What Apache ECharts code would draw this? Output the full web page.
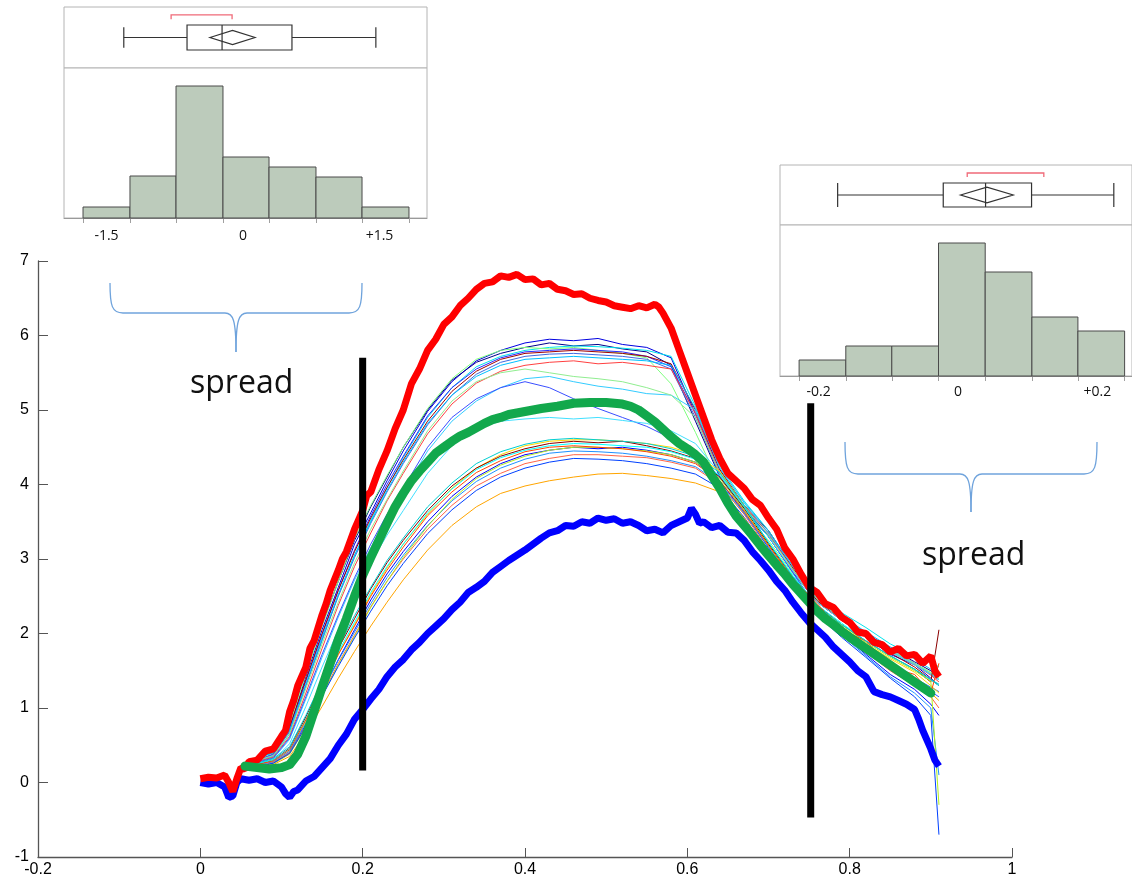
<!DOCTYPE html>
<html><head><meta charset="utf-8">
<script src="https://cdn.jsdelivr.net/npm/echarts@6/dist/echarts.min.js"></script>
<style>html,body{margin:0;padding:0;background:#fff}#c{width:1132px;height:884px}</style>
</head><body><div id="c"></div>
<script>
// ---------------- DATA ----------------
// main plot: thick envelope / mean curves  [x, y]
const maxCurve = [[0,0.05],[0.01,0.07],[0.02,0.06],[0.03,0.1],[0.035,0.0],[0.04,-0.12],[0.045,0.05],[0.05,0.2],[0.055,0.18],[0.06,0.28],[0.07,0.3],[0.08,0.42],[0.09,0.45],[0.1,0.62],[0.105,0.7],[0.11,0.95],[0.115,1.1],[0.12,1.3],[0.13,1.55],[0.135,1.8],[0.14,1.9],[0.15,2.25],[0.155,2.4],[0.16,2.58],[0.17,2.85],[0.175,3.0],[0.18,3.1],[0.19,3.4],[0.2,3.65],[0.205,3.85],[0.21,3.9],[0.22,4.2],[0.23,4.45],[0.24,4.75],[0.25,5.0],[0.26,5.35],[0.27,5.55],[0.28,5.8],[0.29,5.95],[0.3,6.15],[0.31,6.25],[0.32,6.4],[0.33,6.5],[0.34,6.62],[0.35,6.7],[0.36,6.72],[0.37,6.8],[0.38,6.78],[0.39,6.82],[0.4,6.75],[0.41,6.76],[0.42,6.68],[0.43,6.7],[0.44,6.62],[0.45,6.6],[0.46,6.55],[0.47,6.56],[0.48,6.5],[0.49,6.47],[0.5,6.45],[0.51,6.4],[0.52,6.38],[0.53,6.36],[0.54,6.4],[0.55,6.37],[0.56,6.42],[0.565,6.38],[0.57,6.3],[0.58,6.1],[0.59,5.8],[0.6,5.5],[0.61,5.2],[0.62,4.9],[0.63,4.6],[0.64,4.35],[0.65,4.15],[0.66,4.05],[0.67,3.95],[0.68,3.8],[0.69,3.72],[0.7,3.55],[0.71,3.4],[0.72,3.15],[0.73,3.0],[0.74,2.8],[0.75,2.62],[0.76,2.55],[0.77,2.4],[0.78,2.35],[0.79,2.22],[0.8,2.15],[0.81,2.02],[0.82,2.0],[0.83,1.88],[0.84,1.85],[0.85,1.75],[0.86,1.8],[0.87,1.7],[0.88,1.72],[0.89,1.6],[0.9,1.7],[0.905,1.5],[0.91,1.42]];
const minCurve = [[0,0.0],[0.01,-0.02],[0.02,0.0],[0.03,-0.06],[0.035,-0.2],[0.04,-0.18],[0.045,0.0],[0.05,0.05],[0.06,0.03],[0.07,0.05],[0.08,0.0],[0.09,0.02],[0.1,-0.06],[0.105,-0.15],[0.11,-0.2],[0.115,-0.12],[0.12,-0.1],[0.13,0.02],[0.14,0.08],[0.15,0.2],[0.16,0.32],[0.17,0.5],[0.18,0.65],[0.19,0.85],[0.2,0.98],[0.21,1.12],[0.22,1.25],[0.23,1.42],[0.24,1.55],[0.25,1.65],[0.26,1.78],[0.27,1.88],[0.28,2.0],[0.29,2.1],[0.3,2.2],[0.31,2.32],[0.32,2.42],[0.33,2.55],[0.34,2.62],[0.35,2.7],[0.36,2.82],[0.37,2.9],[0.38,2.98],[0.39,3.05],[0.4,3.12],[0.41,3.2],[0.42,3.28],[0.43,3.35],[0.44,3.38],[0.45,3.45],[0.46,3.44],[0.47,3.5],[0.48,3.48],[0.49,3.55],[0.5,3.52],[0.51,3.54],[0.52,3.48],[0.53,3.5],[0.54,3.45],[0.55,3.38],[0.56,3.4],[0.57,3.35],[0.58,3.45],[0.59,3.5],[0.6,3.55],[0.605,3.68],[0.61,3.6],[0.615,3.48],[0.62,3.5],[0.63,3.42],[0.64,3.45],[0.65,3.36],[0.66,3.35],[0.67,3.25],[0.68,3.1],[0.69,2.98],[0.7,2.85],[0.71,2.7],[0.72,2.58],[0.73,2.42],[0.74,2.28],[0.75,2.15],[0.76,2.05],[0.77,1.95],[0.78,1.82],[0.79,1.72],[0.8,1.62],[0.81,1.5],[0.82,1.42],[0.83,1.22],[0.84,1.18],[0.85,1.15],[0.86,1.1],[0.87,1.05],[0.88,0.98],[0.885,0.85],[0.89,0.7],[0.9,0.45],[0.905,0.3],[0.91,0.22]];
const meanCurve = [[0.055,0.22],[0.07,0.2],[0.085,0.18],[0.1,0.2],[0.11,0.24],[0.12,0.38],[0.13,0.62],[0.14,0.95],[0.15,1.28],[0.16,1.6],[0.17,1.92],[0.18,2.2],[0.19,2.5],[0.2,2.78],[0.21,3.02],[0.22,3.25],[0.23,3.48],[0.24,3.7],[0.25,3.88],[0.26,4.05],[0.27,4.18],[0.28,4.3],[0.29,4.42],[0.3,4.5],[0.31,4.58],[0.32,4.65],[0.33,4.7],[0.34,4.76],[0.35,4.82],[0.36,4.87],[0.37,4.9],[0.38,4.94],[0.39,4.96],[0.4,4.98],[0.42,5.02],[0.44,5.05],[0.46,5.09],[0.48,5.1],[0.5,5.1],[0.52,5.08],[0.53,5.05],[0.54,5.0],[0.55,4.92],[0.56,4.84],[0.57,4.74],[0.58,4.64],[0.59,4.55],[0.6,4.48],[0.61,4.4],[0.62,4.3],[0.63,4.12],[0.64,3.95],[0.65,3.75],[0.66,3.58],[0.67,3.45],[0.68,3.32],[0.69,3.18],[0.7,3.05],[0.71,2.92],[0.72,2.8],[0.73,2.66],[0.74,2.54],[0.75,2.42],[0.76,2.3],[0.77,2.2],[0.78,2.12],[0.79,2.03],[0.8,1.95],[0.82,1.8],[0.84,1.65],[0.86,1.5],[0.88,1.35],[0.9,1.2]];

// individual traces, sampled on a common x grid
const traceX = [0.07,0.09,0.11,0.13,0.15,0.17,0.19,0.21,0.23,0.25,0.28,0.31,0.34,0.37,0.40,0.43,0.46,0.49,0.52,0.55,0.58,0.61,0.64,0.67,0.70,0.73,0.76,0.79,0.82,0.85,0.88,0.90,0.91];
const traceU1 = [0.3,0.38,0.72,1.42,2.05,2.62,3.2,3.62,4.05,4.45,4.98,5.38,5.66,5.8,5.9,5.95,5.93,5.96,5.88,5.84,5.7,4.95,4.2,3.7,3.3,2.82,2.42,2.18,1.95,1.72,1.58,1.4,1.3];
const traceU2 = [0.35,0.42,0.8,1.5,2.12,2.7,3.25,3.7,4.1,4.5,5.0,5.4,5.64,5.76,5.84,5.9,5.86,5.88,5.82,5.78,5.6,4.85,4.1,3.65,3.32,2.9,2.5,2.22,2.0,1.8,1.62,1.5,1.42];
const traceU3 = [0.28,0.35,0.65,1.3,1.9,2.52,3.05,3.52,3.95,4.36,4.9,5.3,5.58,5.72,5.8,5.84,5.86,5.85,5.83,5.8,5.72,5.05,4.25,3.78,3.38,2.9,2.52,2.28,2.08,1.86,1.7,1.62,1.55];
const traceU4 = [0.33,0.4,0.78,1.45,2.1,2.7,3.28,3.72,4.12,4.5,5.02,5.42,5.68,5.8,5.84,5.82,5.84,5.8,5.76,5.7,5.35,4.7,4.0,3.6,3.25,2.8,2.45,2.2,1.96,1.76,1.6,1.48,1.4];
const traceU5 = [0.3,0.36,0.7,1.36,1.98,2.58,3.12,3.58,4.0,4.38,4.92,5.3,5.55,5.7,5.78,5.8,5.82,5.8,5.78,5.72,5.58,4.95,4.15,3.7,3.35,2.86,2.46,2.2,1.98,1.78,1.6,1.45,1.38];
const traceU6 = [0.34,0.4,0.75,1.38,2.0,2.58,3.1,3.55,3.96,4.33,4.85,5.25,5.52,5.68,5.76,5.78,5.8,5.78,5.76,5.72,5.62,5.0,4.2,3.72,3.38,2.88,2.44,2.18,1.95,1.74,1.55,1.38,1.3];
const traceU7 = [0.3,0.38,0.68,1.3,1.92,2.5,3.02,3.48,3.9,4.28,4.8,5.2,5.48,5.64,5.72,5.75,5.76,5.74,5.72,5.68,5.55,4.9,4.12,3.68,3.3,2.82,2.34,2.05,1.8,1.58,1.4,1.28,1.22];
const traceU8 = [0.32,0.4,0.7,1.32,1.95,2.52,3.05,3.5,3.92,4.3,4.82,5.2,5.45,5.6,5.68,5.7,5.72,5.7,5.68,5.66,5.6,5.02,4.22,3.76,3.38,2.9,2.5,2.24,2.02,1.82,1.66,1.52,1.46];
const traceM1 = [0.28,0.34,0.62,1.2,1.8,2.38,2.9,3.35,3.78,4.15,4.68,5.08,5.36,5.52,5.6,5.64,5.66,5.62,5.64,5.6,5.55,4.95,4.15,3.7,3.35,2.85,2.42,2.18,1.95,1.75,1.58,1.44,1.35];
const traceM2 = [0.26,0.32,0.58,1.12,1.68,2.22,2.72,3.15,3.55,3.9,4.45,4.85,5.12,5.3,5.42,5.45,5.38,5.32,5.28,5.22,5.2,5.0,4.22,3.75,3.35,2.9,2.46,2.2,1.96,1.76,1.6,1.46,1.38];
const traceM3 = [0.27,0.33,0.6,1.15,1.72,2.25,2.75,3.2,3.6,3.95,4.5,4.9,5.15,5.3,5.38,5.3,5.15,5.02,4.9,4.78,4.62,4.45,4.1,3.65,3.3,2.82,2.3,2.02,1.78,1.55,1.38,1.22,1.15];
const traceM4 = [0.25,0.3,0.52,1.02,1.55,2.05,2.52,2.95,3.32,3.65,4.15,4.52,4.75,4.85,4.88,4.9,4.88,4.9,4.86,4.82,4.72,4.55,4.15,3.65,3.3,2.84,2.42,2.18,1.95,1.75,1.58,1.45,1.38];
const traceM5 = [0.3,0.36,0.66,1.26,1.86,2.42,2.95,3.4,3.8,4.18,4.72,5.12,5.38,5.5,5.55,5.5,5.45,5.42,5.38,5.3,5.2,4.9,4.15,3.7,3.32,2.86,2.46,2.2,1.98,1.78,1.6,1.47,1.4];
const traceL1 = [0.22,0.28,0.42,0.82,1.28,1.72,2.12,2.52,2.88,3.2,3.6,3.95,4.22,4.4,4.52,4.58,4.6,4.6,4.58,4.55,4.5,4.4,4.18,3.72,3.2,2.74,2.34,2.1,1.86,1.66,1.48,1.3,1.2];
const traceL2 = [0.24,0.3,0.46,0.88,1.34,1.8,2.2,2.6,2.95,3.25,3.65,3.98,4.22,4.38,4.48,4.55,4.58,4.56,4.58,4.52,4.45,4.35,4.1,3.68,3.2,2.76,2.38,2.12,1.9,1.7,1.52,1.35,2.05];
const traceL3 = [0.2,0.26,0.4,0.78,1.22,1.65,2.05,2.45,2.8,3.1,3.5,3.84,4.1,4.28,4.4,4.46,4.5,4.48,4.5,4.46,4.4,4.3,4.05,3.62,3.15,2.72,2.28,2.0,1.72,1.45,1.25,1.05,0.9];
const traceL4 = [0.22,0.27,0.4,0.76,1.18,1.6,1.98,2.36,2.7,3.0,3.4,3.72,3.98,4.15,4.28,4.35,4.4,4.4,4.38,4.36,4.3,4.22,4.0,3.6,3.12,2.7,2.3,2.02,1.75,1.5,1.3,1.15,1.0];
const traceL5 = [0.25,0.3,0.45,0.85,1.3,1.75,2.15,2.55,2.9,3.2,3.62,3.94,4.2,4.36,4.46,4.52,4.55,4.54,4.52,4.5,4.44,4.34,4.12,3.7,3.22,2.78,2.38,2.14,1.9,1.7,1.52,1.38,1.3];
const traceL6 = [0.23,0.28,0.42,0.8,1.22,1.64,2.02,2.4,2.75,3.05,3.45,3.78,4.04,4.22,4.34,4.42,4.45,4.44,4.42,4.38,4.32,4.24,4.02,3.62,3.16,2.72,2.26,1.98,1.7,1.42,1.2,1.0,0.1];
const traceL7 = [0.2,0.25,0.38,0.74,1.16,1.58,1.96,2.35,2.7,3.02,3.44,3.8,4.08,4.26,4.38,4.46,4.5,4.5,4.48,4.45,4.4,4.3,4.08,3.66,3.18,2.74,2.36,2.12,1.88,1.68,1.5,1.36,-0.3];
const traceL8 = [0.24,0.29,0.44,0.84,1.28,1.72,2.1,2.5,2.85,3.16,3.58,3.9,4.16,4.32,4.44,4.5,4.52,4.5,4.48,4.44,4.38,4.28,4.05,3.64,3.18,2.74,2.4,2.05,1.9,1.55,1.45,1.2,1.6];
const traceL9 = [0.26,0.32,0.48,0.9,1.36,1.82,2.24,2.62,2.98,3.28,3.7,4.02,4.28,4.44,4.54,4.6,4.62,4.6,4.58,4.55,4.48,4.38,4.16,3.72,3.22,2.76,2.36,2.12,1.9,1.7,1.52,1.38,1.32];
const traceL10 = [0.21,0.26,0.39,0.75,1.16,1.56,1.94,2.3,2.64,2.94,3.34,3.66,3.92,4.1,4.22,4.3,4.35,4.34,4.32,4.28,4.22,4.14,3.95,3.56,3.1,2.68,2.25,1.95,1.68,1.4,1.15,0.9,-0.7];
const traceO1 = [0.2,0.24,0.35,0.66,1.02,1.4,1.76,2.1,2.42,2.72,3.12,3.45,3.7,3.88,3.98,4.05,4.1,4.14,4.15,4.12,4.08,4.02,3.9,3.55,3.1,2.7,2.35,2.05,1.78,1.52,1.35,1.2,1.1];

// spread markers (x position, y from / to)
const spreadBarLeft = [[0.2, 0.16], [0.2, 5.7]];
const spreadBarRight = [[0.752, -0.47], [0.752, 5.09]];

// left inset (spread at x = 0.2)
const leftBinEdges = [-1.758, -1.242, -0.736, -0.22, 0.286, 0.802, 1.308, 1.824];
const leftCounts = [1.1, 4.2, 13.2, 6.1, 5.1, 4.1, 1.1];
const leftBox = [-1.31, -0.615, -0.23, 0.538, 1.46];   // min, q1, median, q3, max
const leftMeanDiamond = [-0.363, -0.115, 0.132];       // lower, mean, upper
const leftShortestHalf = [-0.79, -0.12];
const leftTickLabels = [-1.5, 0, 1.5];

// right inset (spread at x = 0.75)
const rightBinEdges = [-0.228, -0.161, -0.095, -0.028, 0.039, 0.106, 0.172, 0.239];
const rightCounts = [1.6, 3.0, 3.0, 13.3, 10.4, 5.9, 4.5];
const rightBox = [-0.1727, -0.0212, 0.0395, 0.1055, 0.2235];
const rightMeanDiamond = [0.0036, 0.0414, 0.0792];
const rightShortestHalf = [0.0132, 0.1231];
const rightTickLabels = [-0.2, 0, 0.2];

// ---------------- CHART ----------------
const traces = [
  [traceU1,'#0000e0'],[traceU2,'#00008b'],[traceU3,'#00e5ee'],[traceU4,'#7fff7f'],[traceU5,'#2a2aff'],
  [traceU6,'#a00000'],[traceU7,'#4169e1'],[traceU8,'#00bfff'],
  [traceM1,'#ff4040'],[traceM2,'#33ccff'],[traceM3,'#3a4fff'],[traceM4,'#40e0ff'],[traceM5,'#90ee90'],
  [traceL1,'#ffd700'],[traceL2,'#8b0000'],[traceL3,'#0000ff'],[traceL4,'#ff6347'],[traceL5,'#00ffff'],
  [traceL6,'#1e90ff'],[traceL7,'#b0f020'],[traceL8,'#ff4500'],[traceL9,'#00ced1'],[traceL10,'#0040ff'],
  [traceO1,'#ffa500']
];

const chart = echarts.init(document.getElementById('c'), null, {renderer:'canvas'});
const axisFont = {fontFamily:'Liberation Sans, Arial, sans-serif', fontSize:16, color:'#000'};
const insetFont = {fontFamily:'Open Sans, sans-serif', fontSize:14, color:'#111'};

function histRender(params, api){
  const a = api.coord([api.value(0), api.value(2)]);
  const b = api.coord([api.value(1), 0]);
  return {type:'rect', shape:{x:a[0], y:a[1], width:b[0]-a[0], height:b[1]-a[1]},
          style:{fill:'#bccbbb', stroke:'#4a4a4a', lineWidth:1}};
}
function boxRenderer(g){
  return function(params, api){
    const v = i => api.value(i);
    const X = x => api.coord([x, 0.5])[0];
    const Y = y => api.coord([0, y])[1];
    const st = {stroke:'#333', lineWidth:1.2, fill:null};
    const yc = Y(0.5);
    return {type:'group', children:[
      {type:'line', shape:{x1:X(v(0)), y1:yc, x2:X(v(1)), y2:yc}, style:st},
      {type:'line', shape:{x1:X(v(3)), y1:yc, x2:X(v(4)), y2:yc}, style:st},
      {type:'line', shape:{x1:X(v(0)), y1:Y(g.capLo), x2:X(v(0)), y2:Y(g.capHi)}, style:st},
      {type:'line', shape:{x1:X(v(4)), y1:Y(g.capLo), x2:X(v(4)), y2:Y(g.capHi)}, style:st},
      {type:'rect', shape:{x:X(v(1)), y:Y(g.boxHi), width:X(v(3))-X(v(1)), height:Y(g.boxLo)-Y(g.boxHi)}, style:{stroke:'#333', lineWidth:1.2, fill:'#fff'}},
      {type:'line', shape:{x1:X(v(2)), y1:Y(g.boxLo), x2:X(v(2)), y2:Y(g.boxHi)}, style:st},
      {type:'polygon', shape:{points:[[X(v(5)),yc],[X(v(6)),Y(g.diaHi)],[X(v(7)),yc],[X(v(6)),Y(g.diaLo)]]}, style:st},
      {type:'polyline', shape:{points:[[X(v(8)),Y(g.brLo)],[X(v(8)),Y(g.brHi)],[X(v(9)),Y(g.brHi)],[X(v(9)),Y(g.brLo)]]}, style:{stroke:'#f06a78', lineWidth:1.3, fill:null}}
    ]};
  };
}
const fmtSigned = v => v > 0 ? '+' + v : String(v);

// curly brace annotation built from bezier + line pieces
function brace(xl, xr, yTop, yMid, yTip){
  const xc = (xl + xr) / 2;
  const st = {stroke:'#6fa3dc', lineWidth:1.3, fill:null};
  return [
    {type:'bezierCurve', shape:{x1:xl, y1:yTop, cpx1:xl, cpy1:yMid-7, cpx2:xl+2, cpy2:yMid, x2:xl+13, y2:yMid}, style:st},
    {type:'line', shape:{x1:xl+13, y1:yMid, x2:xc-11, y2:yMid}, style:st},
    {type:'bezierCurve', shape:{x1:xc-11, y1:yMid, cpx1:xc-3, cpy1:yMid, cpx2:xc, cpy2:yMid+7, x2:xc, y2:yTip}, style:st},
    {type:'bezierCurve', shape:{x1:xc, y1:yTip, cpx1:xc, cpy1:yMid+7, cpx2:xc+3, cpy2:yMid, x2:xc+11, y2:yMid}, style:st},
    {type:'line', shape:{x1:xc+11, y1:yMid, x2:xr-13, y2:yMid}, style:st},
    {type:'bezierCurve', shape:{x1:xr-13, y1:yMid, cpx1:xr-2, cpy1:yMid, cpx2:xr, cpy2:yMid-7, x2:xr, y2:yTop}, style:st}
  ];
}

const series = [];
traces.forEach(([ys, col]) => {
  series.push({type:'line', xAxisIndex:0, yAxisIndex:0, showSymbol:false, silent:true, z:2,
    data: traceX.map((x,i)=>[x, ys[i]]), lineStyle:{width:1, color:col}, itemStyle:{color:col}});
});
series.push({type:'line', xAxisIndex:0, yAxisIndex:0, showSymbol:false, z:3, data:minCurve, lineStyle:{width:7, color:'#0000ff'}});
series.push({type:'line', xAxisIndex:0, yAxisIndex:0, showSymbol:false, z:3, data:maxCurve, lineStyle:{width:7, color:'#ff0000'}});
series.push({type:'line', xAxisIndex:0, yAxisIndex:0, showSymbol:false, z:4, data:meanCurve, lineStyle:{width:9, color:'#12a84c', cap:'round', join:'round'}});
series.push({type:'line', xAxisIndex:0, yAxisIndex:0, showSymbol:false, z:5, data:spreadBarLeft, lineStyle:{width:7, color:'#000'}});
series.push({type:'line', xAxisIndex:0, yAxisIndex:0, showSymbol:false, z:5, data:spreadBarRight, lineStyle:{width:7, color:'#000'}});

// insets
series.push({type:'custom', xAxisIndex:1, yAxisIndex:1, renderItem:boxRenderer({capLo:0.33,capHi:0.67,boxLo:0.295,boxHi:0.705,diaLo:0.385,diaHi:0.615,brLo:0.8,brHi:0.87}),
  data:[[...leftBox, leftMeanDiamond[0], leftMeanDiamond[1], leftMeanDiamond[2], leftShortestHalf[0], leftShortestHalf[1]]], encode:{x:[0,4]}});
series.push({type:'custom', xAxisIndex:2, yAxisIndex:2, renderItem:histRender,
  data:leftCounts.map((c,i)=>[leftBinEdges[i], leftBinEdges[i+1], c]), encode:{x:[0,1], y:2}});
series.push({type:'custom', xAxisIndex:3, yAxisIndex:3, renderItem:boxRenderer({capLo:0.3,capHi:0.7,boxLo:0.3,boxHi:0.7,diaLo:0.37,diaHi:0.63,brLo:0.8,brHi:0.867}),
  data:[[...rightBox, rightMeanDiamond[0], rightMeanDiamond[1], rightMeanDiamond[2], rightShortestHalf[0], rightShortestHalf[1]]], encode:{x:[0,4]}});
series.push({type:'custom', xAxisIndex:4, yAxisIndex:4, renderItem:histRender,
  data:rightCounts.map((c,i)=>[rightBinEdges[i], rightBinEdges[i+1], c]), encode:{x:[0,1], y:2}});

const insetBorder = {show:true, borderColor:'#b4b4b4', borderWidth:1, backgroundColor:'#fff'};
const hiddenAxis = (min,max,grid)=>({type:'value', gridIndex:grid, min, max, show:false});

chart.setOption({
  animation:false,
  backgroundColor:'#fff',
  grid:[
    {left:38, right:120, top:261, bottom:27},
    Object.assign({left:64, top:7, width:363, height:61}, insetBorder),
    Object.assign({left:64, top:68, width:363, height:150}, insetBorder),
    Object.assign({left:780, top:165, width:352, height:60}, insetBorder),
    Object.assign({left:780, top:225, width:352, height:151}, insetBorder)
  ],
  xAxis:[
    {type:'value', gridIndex:0, min:-0.2, max:1, interval:0.2,
     axisLine:{onZero:false, lineStyle:{color:'#555', width:1.3}}, axisTick:{inside:true, length:9, lineStyle:{color:'#555'}},
     splitLine:{show:false}, axisLabel:Object.assign({margin:5}, axisFont)},
    hiddenAxis(-1.967, 2.022, 1),
    {type:'value', gridIndex:2, min:-1.967, max:2.022, splitLine:{show:false},
     axisLine:{onZero:false, lineStyle:{color:'#9a9a9a'}},
     axisTick:{customValues:leftBinEdges, length:5, lineStyle:{color:'#a0a0a0'}},
     axisLabel:Object.assign({customValues:leftTickLabels, formatter:fmtSigned, margin:11}, insetFont)},
    hiddenAxis(-0.2554, 0.2496, 3),
    {type:'value', gridIndex:4, min:-0.2554, max:0.2496, splitLine:{show:false},
     axisLine:{onZero:false, lineStyle:{color:'#9a9a9a'}},
     axisTick:{customValues:rightBinEdges, length:5, lineStyle:{color:'#a0a0a0'}},
     axisLabel:Object.assign({customValues:rightTickLabels, formatter:fmtSigned, margin:9}, insetFont)}
  ],
  yAxis:[
    {type:'value', gridIndex:0, min:-1, max:7, interval:1,
     axisLine:{show:true, onZero:false, lineStyle:{color:'#555', width:1.3}}, axisTick:{show:true, inside:true, length:10, lineStyle:{color:'#555'}},
     splitLine:{show:false}, axisLabel:Object.assign({margin:9}, axisFont)},
    hiddenAxis(0, 1, 1),
    hiddenAxis(0, 15, 2),
    hiddenAxis(0, 1, 3),
    hiddenAxis(0, 15.1, 4)
  ],
  graphic:[
    ...brace(110, 362, 283, 313, 352),
    ...brace(845, 1097, 442, 474, 512),
    {type:'text', left:190, top:368, style:{text:'spread', font:'32px "Open Sans", sans-serif', fill:'#111'}},
    {type:'text', left:922, top:540, style:{text:'spread', font:'32px "Open Sans", sans-serif', fill:'#111'}}
  ],
  series
});
</script></body></html>
